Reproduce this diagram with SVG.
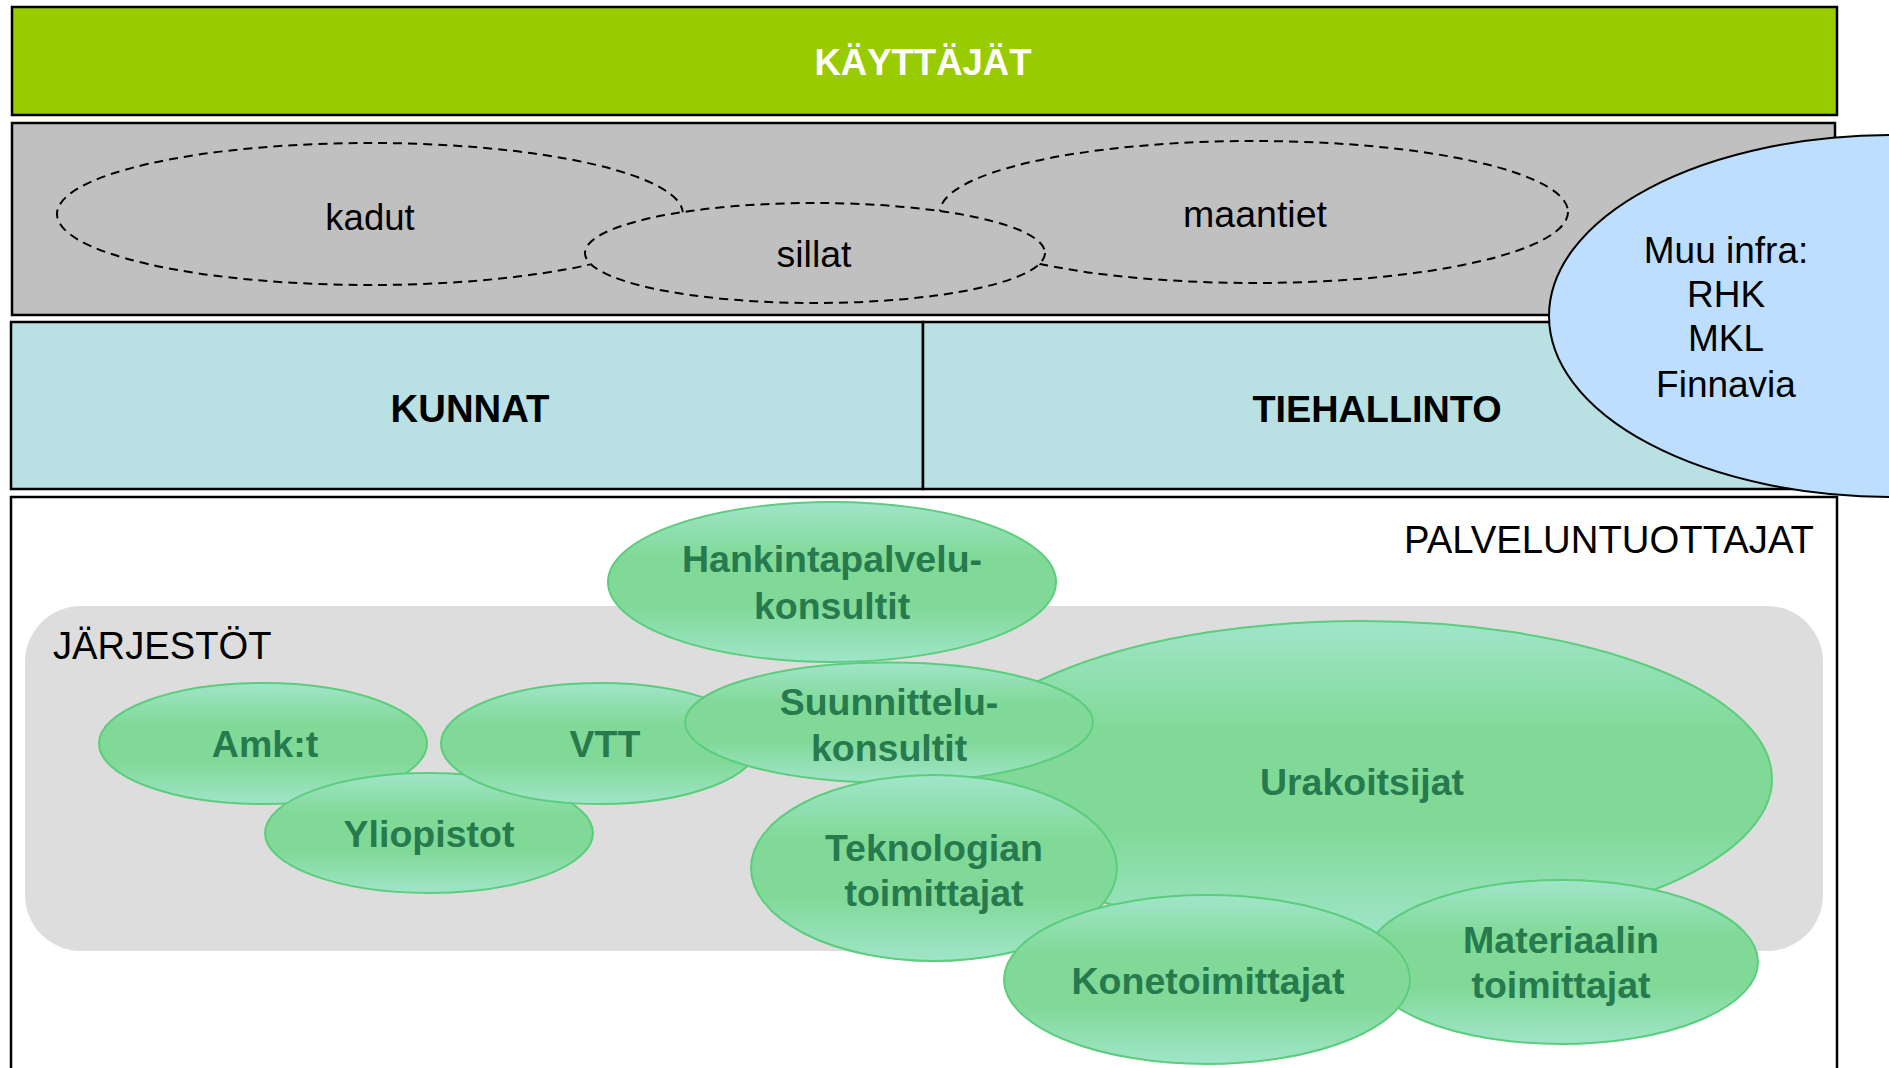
<svg xmlns="http://www.w3.org/2000/svg" width="1889" height="1068" viewBox="0 0 1889 1068">
<defs>
<linearGradient id="gr" x1="0" y1="0" x2="0" y2="1">
<stop offset="0" stop-color="#A0E5C9"/>
<stop offset="0.35" stop-color="#80D997"/>
<stop offset="0.65" stop-color="#80D997"/>
<stop offset="1" stop-color="#A0E5C9"/>
</linearGradient>
<style>
text{font-family:"Liberation Sans",Arial,sans-serif;font-size:37.5px;text-anchor:middle}
.band{stroke:#000;stroke-width:2.5}
.dash{fill:#C0C0C0;stroke:#000;stroke-width:2;stroke-dasharray:9 6}
.g{fill:url(#gr);stroke:#5CCD7C;stroke-width:2}
.gt{font-weight:bold;fill:#267A4E}
.b{font-weight:bold}
</style>
</defs>
<rect width="1889" height="1068" fill="#FFFFFF"/>
<g id="kayttajat">
<rect class="band" x="12" y="7" width="1825" height="108" fill="#99CC00"/>
<text class="b" x="923" y="75" fill="#FFFFFF" style="font-size:36.5px">KÄYTTÄJÄT</text>
</g>
<g id="infra">
<rect class="band" x="12" y="123" width="1823" height="192" fill="#C0C0C0"/>
</g>
<g id="kadut">
<ellipse class="dash" cx="370" cy="214" rx="313" ry="71"/>
<text x="370" y="230" style="font-size:36.5px">kadut</text>
</g>
<g id="maantiet">
<ellipse class="dash" cx="1254" cy="212" rx="314" ry="71"/>
<text x="1255" y="227">maantiet</text>
</g>
<g id="sillat">
<ellipse class="dash" cx="815" cy="253" rx="230" ry="50"/>
<text x="814" y="267">sillat</text>
</g>
<g id="kunnat">
<rect class="band" x="11" y="322" width="912" height="167" fill="#B9E0E3"/>
<text class="b" x="470" y="422" style="font-size:38.3px">KUNNAT</text>
</g>
<g id="tiehallinto">
<rect class="band" x="923" y="322" width="914" height="167" fill="#B9E0E3"/>
<text class="b" x="1377" y="422" style="font-size:37.8px">TIEHALLINTO</text>
</g>
<g id="palveluntuottajat">
<rect class="band" x="11" y="497" width="1826" height="600" fill="#FFFFFF"/>
<text x="1814" y="553" style="text-anchor:end;font-size:38.3px">PALVELUNTUOTTAJAT</text>
</g>
<g id="muu-infra">
<ellipse cx="1892" cy="316" rx="343" ry="181" fill="#BDDEFE" stroke="#000" stroke-width="2"/>
<text x="1726" y="263" style="font-size:37px">Muu infra:</text>
<text x="1726" y="307" style="font-size:37px">RHK</text>
<text x="1726" y="351" style="font-size:37px">MKL</text>
<text x="1726" y="397" style="font-size:37px">Finnavia</text>
</g>
<g id="jarjestot">
<rect x="25" y="606" width="1798" height="345" rx="56" ry="56" fill="#DDDDDD"/>
<text x="53" y="659" style="text-anchor:start;font-size:38.2px">JÄRJESTÖT</text>
</g>
<g id="amk">
<ellipse class="g" cx="263" cy="743.5" rx="164" ry="60.5"/>
<text class="gt" x="265" y="757">Amk:t</text>
</g>
<g id="yliopistot">
<ellipse class="g" cx="429" cy="833" rx="164" ry="60"/>
<text class="gt" x="429" y="847">Yliopistot</text>
</g>
<g id="vtt">
<ellipse class="g" cx="600" cy="743.5" rx="159" ry="60.5"/>
<text class="gt" x="605" y="757">VTT</text>
</g>
<g id="hankinta">
<ellipse class="g" cx="832" cy="582" rx="224" ry="80"/>
<text class="gt" x="832" y="572">Hankintapalvelu-</text>
<text class="gt" x="832" y="619">konsultit</text>
</g>
<g id="urakoitsijat">
<ellipse class="g" cx="1361" cy="779" rx="411" ry="158"/>
<text class="gt" x="1362" y="795">Urakoitsijat</text>
</g>
<g id="suunnittelu">
<ellipse class="g" cx="889" cy="722.5" rx="204" ry="60"/>
<text class="gt" x="889" y="715">Suunnittelu-</text>
<text class="gt" x="889" y="761">konsultit</text>
</g>
<g id="teknologian">
<ellipse class="g" cx="934" cy="868" rx="183" ry="93"/>
<text class="gt" x="934" y="861">Teknologian</text>
<text class="gt" x="934" y="906">toimittajat</text>
</g>
<g id="materiaalin">
<ellipse class="g" cx="1561" cy="962" rx="197" ry="82"/>
<text class="gt" x="1561" y="953">Materiaalin</text>
<text class="gt" x="1561" y="998">toimittajat</text>
</g>
<g id="konetoimittajat">
<ellipse class="g" cx="1207" cy="979.5" rx="203" ry="84.5"/>
<text class="gt" x="1208" y="994">Konetoimittajat</text>
</g>
<g id="connectors"></g>
</svg>
